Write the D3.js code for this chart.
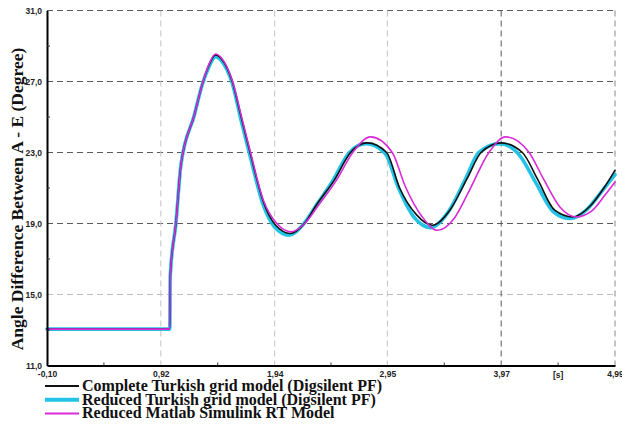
<!DOCTYPE html>
<html>
<head>
<meta charset="utf-8">
<script src="https://cdn.jsdelivr.net/npm/d3@7"></script>
<style>
  body { margin: 0; background: #fff; }
  svg { display: block; }
</style>
</head>
<body>
<svg id="chart"></svg>
<script>
// values
const xTicks = [-0.10, 0.92, 1.94, 2.95, 3.97, 4.99]
const xTickLabels = ["-0,10", "0,92", "1,94", "2,95", "3,97", "4,99"]
const yTicks = [11, 15, 19, 23, 27, 31]
const yTickLabels = ["11,0", "15,0", "19,0", "23,0", "27,0", "31,0"]

const completeT = [-0.10, 1.00, 1.005, 1.055, 1.10, 1.22, 1.29, 1.35, 1.41, 1.46, 1.56, 1.64, 1.72, 1.84, 1.95, 2.08, 2.20, 2.32, 2.47, 2.62, 2.77, 2.943, 3.06, 3.21, 3.353, 3.51, 3.67, 3.79, 3.973, 4.16, 4.296, 4.45, 4.61, 4.77, 4.89, 4.99]
const completeV = [13.05, 13.05, 16.1, 19.0, 22.3, 25.1, 26.8, 27.9, 28.5, 28.3, 27.0, 25.0, 23.0, 20.2, 18.9, 18.44, 18.95, 20.1, 21.4, 23.0, 23.54, 23.0, 21.0, 19.5, 18.9, 19.75, 21.6, 23.0, 23.54, 23.0, 21.5, 19.75, 19.37, 20.0, 21.0, 22.0]

const reducedT = [-0.10, 1.00, 1.005, 1.055, 1.10, 1.22, 1.29, 1.35, 1.41, 1.46, 1.56, 1.64, 1.72, 1.84, 1.94, 2.07, 2.19, 2.31, 2.46, 2.61, 2.76, 2.93, 3.05, 3.19, 3.34, 3.49, 3.65, 3.77, 3.96, 4.14, 4.28, 4.44, 4.59, 4.74, 4.87, 4.99]
const reducedV = [13.05, 13.05, 16.1, 19.0, 22.3, 25.1, 26.8, 27.8, 28.4, 28.2, 26.9, 24.8, 22.8, 20.0, 18.8, 18.34, 18.9, 20.0, 21.4, 23.0, 23.5, 22.95, 21.0, 19.35, 18.77, 19.6, 21.5, 23.0, 23.5, 22.8, 21.3, 19.65, 19.28, 19.8, 20.8, 21.75]

const matlabT = [-0.10, 1.00, 1.005, 1.055, 1.10, 1.22, 1.29, 1.35, 1.41, 1.46, 1.56, 1.64, 1.72, 1.84, 1.96, 2.09, 2.21, 2.33, 2.49, 2.64, 2.80, 2.994, 3.11, 3.26, 3.398, 3.55, 3.68, 3.86, 4.01, 4.22, 4.35, 4.50, 4.64, 4.78, 4.90, 4.99]
const matlabV = [13.05, 13.05, 16.1, 19.0, 22.3, 25.1, 26.8, 27.95, 28.55, 28.35, 27.05, 25.1, 23.1, 20.3, 19.0, 18.53, 19.0, 20.0, 21.4, 23.0, 23.88, 23.0, 21.1, 19.4, 18.62, 19.3, 20.8, 23.0, 23.88, 23.0, 21.5, 19.9, 19.37, 19.7, 20.6, 21.34]

const seriesNames = ["Complete Turkish grid model (Digsilent PF)", "Reduced Turkish grid model (Digsilent PF)", "Reduced Matlab Simulink RT Model"]

const width = 622, height = 428
const margin = {top: 10.5, right: 7, bottom: 62.5, left: 47}

const svg = d3.select("#chart").attr("width", width).attr("height", height)

const x = d3.scaleLinear().domain([-0.10, 4.99]).range([margin.left, width - margin.right])
const y = d3.scaleLinear().domain([11, 31]).range([height - margin.bottom, margin.top])

// grid - some lines are darker than others in the original
const darkH = [31, 27, 23, 19]
const darkV = [3.97]
svg.append("g")
  .selectAll("line")
  .data(yTicks.filter(d => d > 11))
  .join("line")
  .attr("x1", x(-0.10)).attr("x2", x(4.99))
  .attr("y1", d => y(d)).attr("y2", d => y(d))
  .attr("stroke", d => darkH.includes(d) ? "#5a5a5a" : "#bdbdbd")
  .attr("stroke-width", 1)
  .attr("stroke-dasharray", "6,4")

svg.append("g")
  .selectAll("line")
  .data(xTicks.filter(d => d > 0))
  .join("line")
  .attr("x1", d => x(d)).attr("x2", d => x(d))
  .attr("y1", y(31)).attr("y2", y(11))
  .attr("stroke", d => darkV.includes(d) ? "#5a5a5a" : (d === 4.99 ? "#8a8a8a" : "#c4c4c4"))
  .attr("stroke-width", 1)
  .attr("stroke-dasharray", "6,4")

// curves
const line = d3.line().curve(d3.curveMonotoneX)
  .x(d => x(d[0]))
  .y(d => y(d[1]))

const series = [
  {name: seriesNames[1], pts: d3.zip(reducedT, reducedV), color: "#22c3e6", w: 3.6},
  {name: seriesNames[0], pts: d3.zip(completeT, completeV), color: "#111", w: 1.6},
  {name: seriesNames[2], pts: d3.zip(matlabT, matlabV), color: "#d92ad9", w: 1.6}
]

svg.append("g")
  .attr("fill", "none")
  .attr("stroke-linejoin", "round")
  .attr("stroke-linecap", "round")
  .selectAll("path")
  .data(series)
  .join("path")
  .attr("stroke", d => d.color)
  .attr("stroke-width", d => d.w)
  .attr("d", d => line(d.pts))

// axes
const yAxis = g => g
  .attr("transform", `translate(${margin.left},0)`)
  .call(d3.axisLeft(y).tickValues(yTicks).tickFormat((d, i) => yTickLabels[i]).tickSize(0).tickPadding(5))
  .call(g => g.select(".domain").attr("stroke-width", 2))
  .call(g => g.selectAll("text")
    .attr("font-family", "Liberation Sans, Arial, sans-serif")
    .attr("font-weight", "bold")
    .attr("font-size", 8.5)
    .attr("fill", "#222"))

const xAxis = g => g
  .attr("transform", `translate(0,${height - margin.bottom})`)
  .call(d3.axisBottom(x).tickValues(xTicks).tickFormat((d, i) => xTickLabels[i]).tickSize(0).tickPadding(5))
  .call(g => g.select(".domain").attr("stroke-width", 2))
  .call(g => g.selectAll("text")
    .attr("font-family", "Liberation Sans, Arial, sans-serif")
    .attr("font-weight", "bold")
    .attr("font-size", 8.5)
    .attr("fill", "#222"))

svg.append("g").call(yAxis)
svg.append("g").call(xAxis)

// minor ticks pointing into the plot
const yMinor = [13, 17, 21, 25, 29]
svg.append("g")
  .selectAll("line")
  .data(yMinor)
  .join("line")
  .attr("x1", margin.left).attr("x2", margin.left + 3)
  .attr("y1", d => y(d)).attr("y2", d => y(d))
  .attr("stroke", "#333")

const xMinor = d3.pairs(xTicks).map(p => (p[0] + p[1]) / 2)
svg.append("g")
  .selectAll("line")
  .data(xMinor)
  .join("line")
  .attr("x1", d => x(d)).attr("x2", d => x(d))
  .attr("y1", y(11)).attr("y2", y(11) - 3)
  .attr("stroke", "#333")

svg.append("text")
  .attr("x", x(xMinor[4]))
  .attr("y", height - margin.bottom + 12)
  .attr("text-anchor", "middle")
  .attr("font-family", "Liberation Sans, Arial, sans-serif")
  .attr("font-weight", "bold")
  .attr("font-size", 8.5)
  .attr("fill", "#222")
  .text("[s]")

// y title
svg.append("text")
  .attr("transform", "translate(23,199) rotate(-90)")
  .attr("text-anchor", "middle")
  .attr("font-family", "Liberation Serif, Times New Roman, serif")
  .attr("font-weight", "bold")
  .attr("font-size", 17.5)
  .attr("fill", "#111")
  .text("Angle Difference Between A - E (Degree)")

// legend
const legendItems = [
  {name: seriesNames[0], color: "#111", w: 2},
  {name: seriesNames[1], color: "#22c3e6", w: 4},
  {name: seriesNames[2], color: "#d92ad9", w: 2}
]
const lg = svg.append("g")
  .selectAll("g")
  .data(legendItems)
  .join("g")
  .attr("transform", (d, i) => `translate(45,${386 + i * 13.7})`)

lg.append("line")
  .attr("x1", 0).attr("x2", 34)
  .attr("stroke", d => d.color)
  .attr("stroke-width", d => d.w)

lg.append("text")
  .attr("x", 37)
  .attr("y", 5)
  .attr("font-family", "Liberation Serif, Times New Roman, serif")
  .attr("font-weight", "bold")
  .attr("font-size", 16)
  .attr("fill", "#111")
  .text(d => d.name)
</script>
</body>
</html>
